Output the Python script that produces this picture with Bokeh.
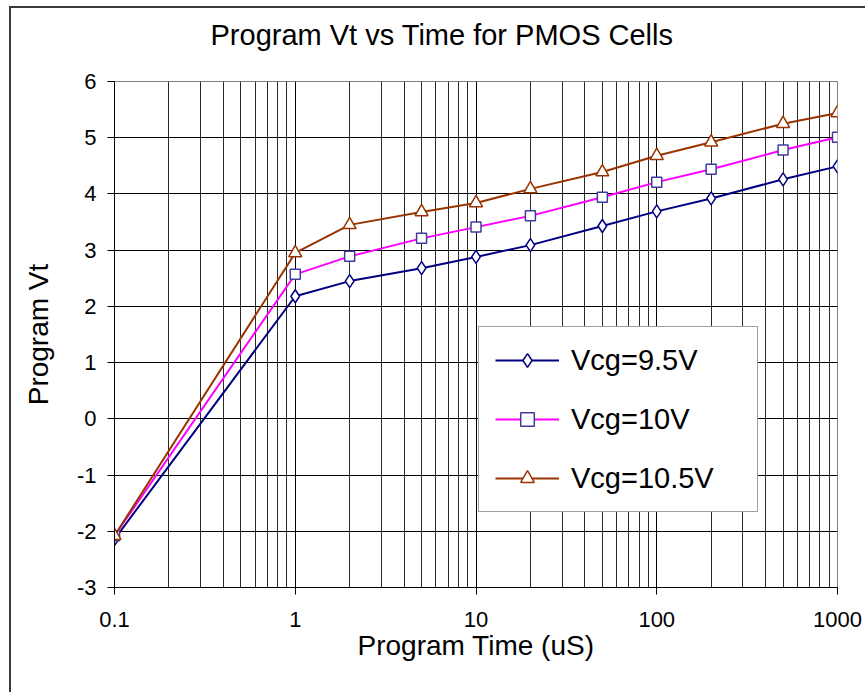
from bokeh.plotting import figure
from bokeh.models import FixedTicker, Legend, LegendItem, Range1d, Title
from bokeh.embed import file_html
from bokeh.resources import INLINE

# ---- data ----
time_us = [0.1, 1, 2, 5, 10, 20, 50, 100, 200, 500, 1000]
vt_vcg95 = [-2.14, 2.18, 2.45, 2.68, 2.88, 3.09, 3.43, 3.69, 3.92, 4.26, 4.49]
vt_vcg10 = [-2.08, 2.57, 2.89, 3.21, 3.41, 3.61, 3.94, 4.21, 4.44, 4.78, 5.01]
vt_vcg105 = [-2.08, 2.95, 3.45, 3.68, 3.84, 4.09, 4.39, 4.68, 4.92, 5.25, 5.44]
series_names = ["Vcg=9.5V", "Vcg=10V", "Vcg=10.5V"]

x_ticks = [0.1, 1, 10, 100, 1000]
x_tick_labels = ["0.1", "1", "10", "100", "1000"]
x_minor = [m * d for d in [0.1, 1, 10, 100] for m in range(2, 10)]
y_ticks = [-3, -2, -1, 0, 1, 2, 3, 4, 5, 6]
y_tick_labels = ["-3", "-2", "-1", "0", "1", "2", "3", "4", "5", "6"]

title_text = "Program Vt vs Time for PMOS Cells"
x_label = "Program Time (uS)"
y_label = "Program Vt"

FONT = "Liberation Sans"

p = figure(width=856, height=686, x_axis_type="log",
           x_range=Range1d(0.1, 1000), y_range=Range1d(-3, 6),
           output_backend="svg", toolbar_location=None,
           min_border_left=103, min_border_right=30,
           min_border_top=73, min_border_bottom=107)
p.margin = (6, 0, 0, 9)
p.styles = {"border-top": "2px solid #3a3a3a", "border-left": "2px solid #3a3a3a"}
p.background_fill_color = "white"
p.border_fill_color = "white"
p.outline_line_color = "#808080"
p.outline_line_width = 1

# white (invisible) spacer panel right above the frame, keeps the real title high
spacer = Title(text=".", text_font_size="2px", text_color="white", standoff=21)
p.add_layout(spacer, "above")

p.title = Title(text=title_text, align="left", offset=96, standoff=10,
                vertical_align="top",
                text_font=FONT, text_font_size="29px", text_font_style="normal",
                text_color="black")

# axes
xa = p.xaxis[0]
xa.ticker = FixedTicker(ticks=x_ticks, minor_ticks=x_minor)
xa.major_label_overrides = {t: l for t, l in zip(x_ticks, x_tick_labels)}
ya = p.yaxis[0]
ya.ticker = FixedTicker(ticks=y_ticks)
ya.major_label_overrides = {t: l for t, l in zip(y_ticks, y_tick_labels)}
for ax in (xa, ya):
    ax.axis_line_color = "black"
    ax.axis_line_width = 1
    ax.major_tick_in = 0
    ax.major_tick_out = 7
    ax.major_tick_line_color = "black"
    ax.minor_tick_in = 0
    ax.minor_tick_out = 0
    ax.major_label_text_font = FONT
    ax.major_label_text_font_size = "22px"
    ax.major_label_text_color = "black"
    ax.axis_label_text_font = FONT
    ax.axis_label_text_font_size = "28px"
    ax.axis_label_text_font_style = "normal"
    ax.axis_label_text_color = "black"
xa.axis_label = x_label
ya.axis_label = y_label
xa.major_label_standoff = 17
xa.axis_label_standoff = 0
ya.major_label_standoff = 11
ya.axis_label_standoff = 20

# grids
p.xgrid.grid_line_color = "black"
p.xgrid.grid_line_width = 1
p.xgrid.minor_grid_line_color = "#2a2a2a"
p.xgrid.minor_grid_line_width = 1
p.ygrid.grid_line_color = "black"
p.ygrid.grid_line_width = 1

# series
r1l = p.line(time_us, vt_vcg95, line_color="#000080", line_width=2)
r1m = p.scatter(time_us, vt_vcg95, marker="diamond", size=13, fill_color="white",
                line_color="#000080", line_width=1.5)
r2l = p.line(time_us, vt_vcg10, line_color="#ff00ff", line_width=2)
r2m = p.scatter(time_us, vt_vcg10, marker="square", size=10, fill_color="white",
                line_color="#3c3ca0", line_width=1.5)
r3l = p.line(time_us, vt_vcg105, line_color="#993300", line_width=2)
r3m = p.scatter(time_us, vt_vcg105, marker="triangle", size=13, fill_color="white",
                line_color="#993300", line_width=1.5)

legend = Legend(items=[
    LegendItem(label=series_names[0], renderers=[r1l, r1m]),
    LegendItem(label=series_names[1], renderers=[r2l, r2m]),
    LegendItem(label=series_names[2], renderers=[r3l, r3m]),
], location=(364, 75))
legend.label_text_font = FONT
legend.label_text_font_size = "29px"
legend.label_text_color = "black"
legend.glyph_width = 64
legend.glyph_height = 34
legend.label_height = 34
legend.label_width = 170
legend.label_standoff = 12
legend.spacing = 25
legend.padding = 16
legend.margin = 0
legend.border_line_color = "#404040"
legend.border_line_width = 1
legend.background_fill_color = "white"
legend.background_fill_alpha = 1
p.add_layout(legend)

open("out.html", "w").write(file_html(p, INLINE))
